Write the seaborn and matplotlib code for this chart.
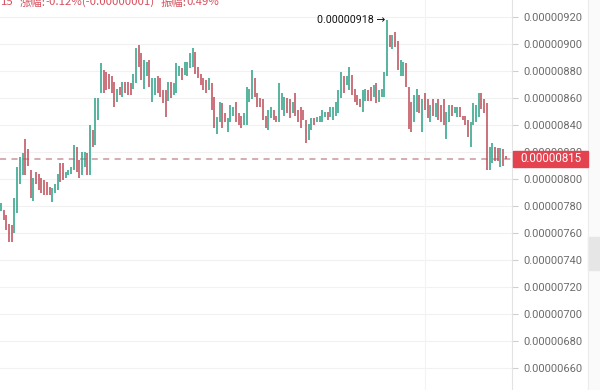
import numpy as np
import matplotlib
matplotlib.use("Agg")
import matplotlib.pyplot as plt
import seaborn as sns

# --- DATA (prices in units of 1e-8) ---
opens = [
    776, 777, 773, 767, 766, 760, 775, 796, 803, 830,
    822, 807, 784, 805, 804, 801, 799, 798, 794, 783,
    790, 792, 812, 812, 801, 803, 804, 807, 824, 814,
    803, 809, 819, 803, 836, 825, 844, 864, 881, 879,
    878, 876, 872, 857, 868, 861, 872, 872, 871, 867,
    871, 899, 893, 867, 876, 888, 857, 862, 876, 875,
    866, 866, 858, 872, 862, 864, 876, 882, 877, 876,
    882, 883, 894, 883, 878, 875, 873, 866, 871, 861,
    833, 842, 856, 849, 835, 842, 847, 857, 849, 847,
    840, 840, 857, 859, 875, 864, 860, 859, 847, 836,
    845, 851, 847, 842, 851, 847, 860, 859, 849, 864,
    851, 853, 851, 844, 829, 836, 845, 842, 842, 842,
    846, 850, 846, 844, 847, 849, 860, 876, 870, 866,
    877, 867, 862, 859, 850, 858, 866, 868, 861, 871,
    857, 861, 861, 876, 907, 896, 909, 902, 876, 876,
    886, 868, 857, 842, 850, 862, 835, 864, 859, 842,
    859, 846, 859, 855, 859, 830, 842, 855, 849, 846,
    853, 847, 847, 844, 824, 840, 842, 846, 864, 859,
    856, 807, 812, 824, 823, 809, 822, 817,
]
closes = [
    782, 770, 762, 753, 753, 786, 809, 816, 819, 803,
    810, 786, 801, 796, 792, 790, 788, 788, 788, 793,
    796, 804, 798, 799, 805, 807, 809, 825, 805, 801,
    820, 820, 803, 840, 824, 860, 860, 886, 864, 866,
    867, 864, 853, 867, 862, 872, 864, 862, 862, 878,
    897, 883, 873, 888, 887, 868, 875, 875, 864, 861,
    856, 846, 872, 860, 871, 886, 884, 873, 887, 887,
    893, 897, 878, 875, 870, 866, 864, 875, 851, 838,
    846, 857, 838, 842, 845, 855, 853, 842, 840, 838,
    849, 868, 867, 881, 861, 853, 853, 844, 838, 851,
    853, 844, 842, 871, 864, 861, 849, 845, 857, 847,
    842, 838, 844, 827, 841, 845, 840, 846, 847, 851,
    850, 844, 853, 853, 857, 866, 879, 864, 876, 883,
    862, 857, 855, 853, 866, 867, 858, 858, 870, 856,
    866, 867, 879, 918, 898, 907, 898, 881, 888, 887,
    868, 837, 835, 862, 867, 849, 859, 851, 845, 855,
    847, 856, 844, 842, 840, 850, 855, 847, 853, 853,
    846, 844, 840, 831, 842, 856, 855, 864, 852, 849,
    807, 824, 827, 813, 813, 823, 810, 815,
]
y_ticks = [660, 680, 700, 720, 740, 760, 780, 800, 820, 840, 860, 880, 900, 920]
last_price = 815
peak_price = 918
header_parts = [
    ("15", "#d6505c"),
    ("涨幅:", "#d6505c"),
    ("-0.12%(-0.00000001)", "#d6505c"),
    ("振幅:", "#d6505c"),
    ("0.49%", "#d6505c"),
]

SCALE = 1e-8
UP = "#28a184"
DOWN = "#be4b57"

sns.set_theme(style="white")
plt.rcParams["font.family"] = ["Roboto", "DejaVu Sans"]

W, H = 600, 390
fig = plt.figure(figsize=(6, 3.9), dpi=100)
ax = fig.add_axes([0, 0, 512 / W, 1])

o = np.array(opens) * SCALE
c = np.array(closes) * SCALE
idx = np.arange(len(o))
colors = [UP if cc >= oo else DOWN for oo, cc in zip(o, c)]

# faint grid
for t in y_ticks:
    ax.axhline(t * SCALE, color="#f1f1f1", lw=0.8, zorder=0)
for gx in [157]:
    ax.axvline(gx, color="#f3f3f3", lw=0.8, zorder=0)

ax.vlines(idx, np.minimum(o, c), np.maximum(o, c), colors=colors, lw=1.1, zorder=2)

# last price dashed line
ax.axhline(last_price * SCALE, color="#c9969c", lw=1.1, ls=(0, (4, 3.5)), zorder=1)

# peak annotation
peak_i = int(np.argmax(c))
ax.annotate(f"{peak_price * SCALE:.8f} →", xy=(peak_i, peak_price * SCALE),
            xytext=(-1, 0), textcoords="offset points",
            ha="right", va="center", fontsize=7.7, color="#111111",
            family=["Roboto", "DejaVu Sans"])

ax.set_xlim(-0.37, 189.3)
y_top = 920 + 17 / 1.35
y_bot = 920 - 373 / 1.35
ax.set_ylim(y_bot * SCALE, y_top * SCALE)

ax.yaxis.tick_right()
ax.set_yticks([t * SCALE for t in y_ticks])
ax.set_yticklabels([f"{t * SCALE:.8f}" for t in y_ticks])
ax.tick_params(axis="y", right=True, length=4, width=0.8, color="#cfcfcf",
               labelsize=7.9, labelcolor="#6b6b6b", pad=4)
ax.set_xticks([])
for s in ["top", "left", "bottom"]:
    ax.spines[s].set_visible(False)
ax.spines["right"].set_color("#e3e3e3")
ax.spines["right"].set_linewidth(0.8)

# red price tag
tag_y = 1 - 159 / H
fig.patches.append(plt.Rectangle((513 / W, tag_y - 8 / H), 75 / W, 16 / H,
                                 transform=fig.transFigure, color="#e5424f", zorder=5))
fig.text(551 / W, tag_y, f"{last_price * SCALE:.8f}", color="white", fontsize=8.3,
         ha="center", va="center", zorder=6)

# right-hand scrollbar strip
fig.patches.append(plt.Rectangle((588 / W, 0), 12 / W, 1, transform=fig.transFigure,
                                 color="#fafafa", zorder=0))
fig.patches.append(plt.Rectangle((588 / W, 1 - 270 / H), 12 / W, 33 / H,
                                 transform=fig.transFigure, color="#e6e6e6", zorder=1))
fig.lines.append(plt.Line2D([588 / W, 588 / W], [0, 1], transform=fig.transFigure,
                            color="#ececec", lw=0.8))

# clipped header text
x = 0.5
for txt, col in header_parts:
    t = fig.text(x / W, 1 - 2 / H, txt, color=col, fontsize=8.2, ha="left", va="center",
                 family=["Noto Sans CJK SC", "DejaVu Sans"])
    fig.canvas.draw()
    bb = t.get_window_extent()
    x += bb.width + (6 if txt in ("15", "-0.12%(-0.00000001)") else 0)

fig.savefig("out.png", dpi=100, facecolor="white")
